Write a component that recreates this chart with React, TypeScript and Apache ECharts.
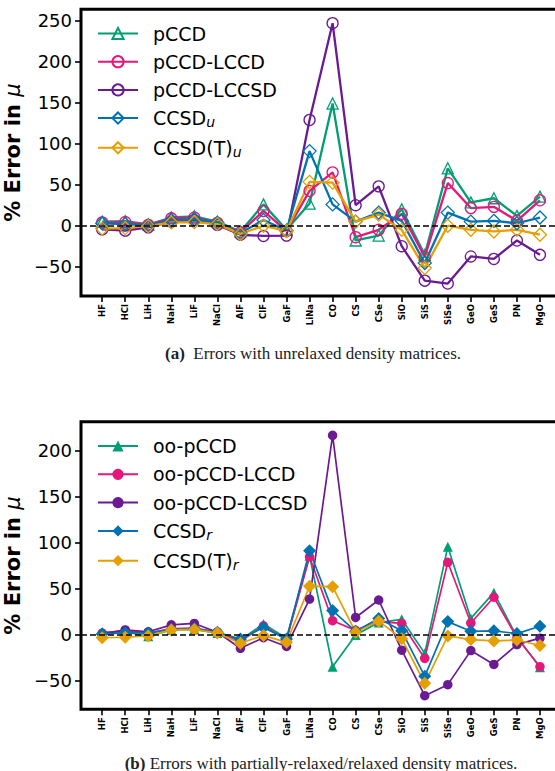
import React, { useEffect, useRef } from 'react';
import * as echarts from 'echarts';

const categories = ['HF', 'HCl', 'LiH', 'NaH', 'LiF', 'NaCl', 'AlF', 'ClF', 'GaF', 'LiNa', 'CO', 'CS', 'CSe', 'SiO', 'SiS', 'SiSe', 'GeO', 'GeS', 'PN', 'MgO'];

// (a) unrelaxed
const pCCD = [5, 5.5, 1.5, 10, 11.5, 5, -7, 26, -5, 27, 149, -18, -12, 20, -35.5, 70, 28.5, 33.5, 12, 35.5];
const pCCD_LCCD = [4, 4.5, 1, 9, 10, 3.5, -8, 18, -6.5, 42.5, 65, -14, -5, 14.5, -38, 52, 21.5, 23, 6, 31];
const pCCD_LCCSD = [-4.5, -6, -2, 5, 7, 1, -11, -12.5, -12, 129, 247, 25, 48, -25, -67, -70.5, -37.5, -40.5, -18, -35.5];
const CCSD_u = [3, 2, 0.5, 7, 8, 3.5, -9, 7, -6, 91, 26, 5, 16, 6, -45.5, 16, 5, 6, 3, 10];
const CCSDT_u = [-3.5, -3, -0.5, 4, 4.5, 2, -10, 0, -6.5, 53.5, 52.5, 5, 13.5, -5, -51.5, 0, -5, -7, -5, -11];

// (b) partially-relaxed / relaxed
const oo_pCCD = [3, 3.5, -1.5, 5.5, 6, 2, -5.5, 12, -3.5, 86, -34.5, 0, 13.5, 17, -20, 96, 18, 46, -2, -35];
const oo_pCCD_LCCD = [2, 5, 2, 7, 7.5, 3, -7, 10, -5.5, 85, 15.5, 5, 14.5, 12.5, -25.5, 79, 13, 41, -3, -34.5];
const oo_pCCD_LCCSD = [1, 5.5, 3.5, 11, 12.5, 3, -14.5, -3, -12.5, 39, 217, 19, 38, -16.5, -66, -54, -17, -32, -10.5, -3.5];
const CCSD_r = [1, 2.5, 2, 6, 7, 3, -4.5, 8, -4.5, 91.5, 26.5, 4, 18, 4.5, -45, 14.5, 4, 4.5, 1.5, 9.5];
const CCSDT_r = [-3, -2.5, -1, 5.5, 6, 2, -9, -0.5, -8, 53, 52.5, 3, 15, -4, -52.5, -1, -5, -6.5, -5.5, -11.5];

const yTicksTop = [-50, 0, 50, 100, 150, 200, 250];
const yTicksBottom = [-50, 0, 50, 100, 150, 200];
const xTicks = categories.map((_, i) => i);

const GREEN = '#009E73';
const PINK = '#E6177A';
const PURPLE = '#6A1A92';
const BLUE = '#0072B2';
const ORANGE = '#E69F00';

const SANS = 'DejaVu Sans';
const SERIF = 'Liberation Serif';

function mkSeries(name: string, values: number[], color: string, symbol: string, size: number, hollow: boolean, lw: number, idx: number, zeroLine = false) {
  const s: any = {
    type: 'line',
    name,
    xAxisIndex: idx,
    yAxisIndex: idx,
    data: values.map((v, i) => [i, v]),
    symbol,
    symbolSize: size,
    showAllSymbol: true,
    lineStyle: { color, width: lw },
    itemStyle: hollow
      ? { color: 'rgba(255,255,255,0)', borderColor: color, borderWidth: 1.3 }
      : { color, borderColor: color, borderWidth: 0 },
    emphasis: { disabled: true },
  };
  if (zeroLine) {
    s.markLine = {
      silent: true,
      symbol: 'none',
      label: { show: false },
      lineStyle: { color: '#000', type: [6, 3], width: 1.6 },
      data: [{ yAxis: 0 }],
    };
  }
  return s;
}

function legendFormatter(name: string) {
  const i = name.indexOf('_');
  if (i < 0) return `{n|${name}}`;
  return `{n|${name.slice(0, i)}}{s|${name.slice(i + 1)}}`;
}

const legendRich = {
  n: { fontFamily: SANS, fontSize: 19, color: '#000', lineHeight: 22 },
  s: { fontFamily: SANS, fontSize: 14, fontStyle: 'italic', color: '#000', lineHeight: 10, verticalAlign: 'bottom' },
};

const yName = '{a|% Error in }{m|μ}';
const yNameStyle = {
  rich: {
    a: { fontFamily: SANS, fontSize: 21, fontWeight: 'bold', color: '#000' },
    m: { fontFamily: SANS, fontSize: 21, fontStyle: 'italic', color: '#000' },
  },
};

function yAxis(idx: number, min: number, max: number, ticks: number[]) {
  return {
    type: 'value',
    gridIndex: idx,
    position: 'left',
    min,
    max,
    name: yName,
    nameLocation: 'middle',
    nameGap: 45,
    nameTextStyle: yNameStyle,
    axisLine: { show: false, onZero: false },
    splitLine: { show: false },
    axisTick: { show: true, inside: false, length: 6, customValues: ticks, lineStyle: { color: '#000', width: 1.6 } },
    axisLabel: {
      show: true,
      customValues: ticks,
      margin: 9,
      fontFamily: SANS,
      fontSize: 18,
      color: '#000',
      formatter: (v: number) => (v < 0 ? '\u2212' + Math.abs(v) : String(v)),
    },
  };
}

function xAxis(idx: number) {
  return {
    type: 'value',
    gridIndex: idx,
    position: 'bottom',
    min: -0.92,
    max: 19.87,
    axisLine: { show: false, onZero: false },
    splitLine: { show: false },
    axisTick: { show: true, inside: false, length: 6, customValues: xTicks, lineStyle: { color: '#000', width: 1.6 } },
    axisLabel: {
      show: true,
      customValues: xTicks,
      rotate: 90,
      margin: 8,
      fontFamily: SANS,
      fontSize: 8.5,
      fontWeight: 'bold',
      color: '#000',
      formatter: (v: number) => categories[Math.round(v)] ?? '',
    },
  };
}

export default function App() {
  const ref = useRef<HTMLDivElement>(null);
  useEffect(() => {
    if (!ref.current) return;
    const chart = echarts.init(ref.current, undefined, { renderer: 'svg' });
    const option: any = {
      animation: false,
      backgroundColor: '#fff',
      grid: [
        { left: 81, top: 9.3, width: 479, height: 286.7, show: true, borderColor: '#000', borderWidth: 3, backgroundColor: 'transparent', containLabel: false, outerBoundsMode: 'none' },
        { left: 81, top: 421.7, width: 479, height: 287.6, show: true, borderColor: '#000', borderWidth: 3, backgroundColor: 'transparent', containLabel: false, outerBoundsMode: 'none' },
      ],
      xAxis: [xAxis(0), xAxis(1)],
      yAxis: [yAxis(0, -85.7, 263.9, yTicksTop), yAxis(1, -80.8, 231.8, yTicksBottom)],
      legend: [
        {
          left: 97,
          top: 24,
          orient: 'vertical',
          padding: 0,
          itemWidth: 40,
          itemHeight: 14,
          itemGap: 9.2,
          selectedMode: false,
          data: ['pCCD', 'pCCD-LCCD', 'pCCD-LCCSD', 'CCSD_u', 'CCSD(T)_u'],
          formatter: legendFormatter,
          textStyle: { rich: legendRich, padding: [0, 0, 0, 10] },
        },
        {
          left: 97,
          top: 436.5,
          orient: 'vertical',
          padding: 0,
          itemWidth: 40,
          itemHeight: 14,
          itemGap: 9.3,
          selectedMode: false,
          data: ['oo-pCCD', 'oo-pCCD-LCCD', 'oo-pCCD-LCCSD', 'CCSD_r', 'CCSD(T)_r'],
          formatter: legendFormatter,
          textStyle: { rich: legendRich, padding: [0, 0, 0, 10] },
        },
      ],
      series: [
        mkSeries('pCCD', pCCD, GREEN, 'triangle', 11, true, 2.3, 0, true),
        mkSeries('pCCD-LCCD', pCCD_LCCD, PINK, 'circle', 11, true, 2.3, 0),
        mkSeries('pCCD-LCCSD', pCCD_LCCSD, PURPLE, 'circle', 11, true, 2.3, 0),
        mkSeries('CCSD_u', CCSD_u, BLUE, 'diamond', 13, true, 2.3, 0),
        mkSeries('CCSD(T)_u', CCSDT_u, ORANGE, 'diamond', 13, true, 2.3, 0),
        mkSeries('oo-pCCD', oo_pCCD, GREEN, 'triangle', 10, false, 1.7, 1, true),
        mkSeries('oo-pCCD-LCCD', oo_pCCD_LCCD, PINK, 'circle', 9.5, false, 1.7, 1),
        mkSeries('oo-pCCD-LCCSD', oo_pCCD_LCCSD, PURPLE, 'circle', 9.5, false, 1.7, 1),
        mkSeries('CCSD_r', CCSD_r, BLUE, 'diamond', 13, false, 1.7, 1),
        mkSeries('CCSD(T)_r', CCSDT_r, ORANGE, 'diamond', 13, false, 1.7, 1),
      ],
      graphic: [
        {
          type: 'text',
          x: 313,
          y: 353,
          style: {
            text: '{b|(a)}  Errors with unrelaxed density matrices.',
            fontFamily: SERIF,
            fontSize: 17,
            fill: '#222',
            align: 'center',
            verticalAlign: 'middle',
            rich: { b: { fontFamily: SERIF, fontSize: 17, fontWeight: 'bold', fill: '#222' } },
          },
        },
        {
          type: 'text',
          x: 321,
          y: 763,
          style: {
            text: '{b|(b)} Errors with partially-relaxed/relaxed density matrices.',
            fontFamily: SERIF,
            fontSize: 17,
            fill: '#222',
            align: 'center',
            verticalAlign: 'middle',
            rich: { b: { fontFamily: SERIF, fontSize: 17, fontWeight: 'bold', fill: '#222' } },
          },
        },
      ],
    };
    chart.setOption(option);
    return () => chart.dispose();
  }, []);
  return (
    <div style={{ position: 'fixed', left: 0, top: 0, width: 555, height: 771, overflow: 'hidden', background: '#fff' }}>
      <div ref={ref} style={{ width: 555, height: 771 }} />
    </div>
  );
}
